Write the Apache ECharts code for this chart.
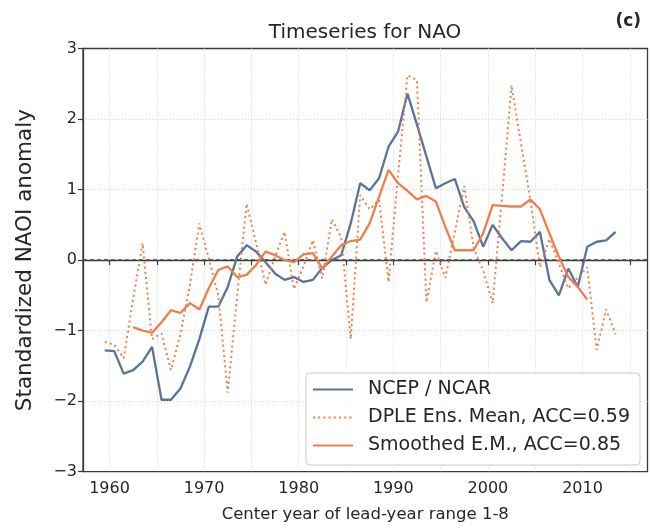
<!DOCTYPE html>
<html>
<head>
<meta charset="utf-8">
<script src="https://cdn.jsdelivr.net/npm/echarts@6/dist/echarts.min.js"></script>
<style>
  html, body { margin: 0; padding: 0; background: #ffffff; }
  #chart { width: 651px; height: 531px; }
</style>
</head>
<body>
<div id="chart"></div>
<script>
// Centre year of the lead-year 1-8 window for each start date
const years = [
  1959.5, 1960.5, 1961.5, 1962.5, 1963.5, 1964.5, 1965.5, 1966.5, 1967.5, 1968.5,
  1969.5, 1970.5, 1971.5, 1972.5, 1973.5, 1974.5, 1975.5, 1976.5, 1977.5, 1978.5,
  1979.5, 1980.5, 1981.5, 1982.5, 1983.5, 1984.5, 1985.5, 1986.5, 1987.5, 1988.5,
  1989.5, 1990.5, 1991.5, 1992.5, 1993.5, 1994.5, 1995.5, 1996.5, 1997.5, 1998.5,
  1999.5, 2000.5, 2001.5, 2002.5, 2003.5, 2004.5, 2005.5, 2006.5, 2007.5, 2008.5,
  2009.5, 2010.5, 2011.5, 2012.5, 2013.5
];

// Observed NAO index (NCEP / NCAR reanalysis), standardized
const ncep = [
  -1.28, -1.29, -1.61, -1.56, -1.44, -1.23, -1.98, -1.98, -1.82, -1.51,
  -1.12, -0.66, -0.66, -0.38, 0.05, 0.21, 0.12, -0.03, -0.19, -0.28,
  -0.24, -0.31, -0.28, -0.11, 0.00, 0.07, 0.52, 1.09, 0.99, 1.16,
  1.61, 1.82, 2.36, 1.92, 1.47, 1.02, 1.09, 1.15, 0.75, 0.55,
  0.19, 0.50, 0.31, 0.14, 0.27, 0.26, 0.40, -0.28, -0.50, -0.12,
  -0.38, 0.19, 0.26, 0.28, 0.40
];

// DPLE ensemble mean
const dple = [
  -1.16, -1.20, -1.39, -0.55, 0.24, -1.12, -1.04, -1.56, -1.05, -0.35,
  0.52, 0.02, -0.50, -1.88, -0.50, 0.80, 0.24, -0.35, 0.05, 0.40,
  -0.41, -0.09, 0.28, -0.26, 0.58, 0.32, -1.12, 0.92, 0.72, 0.85,
  -0.31, 1.20, 2.62, 2.55, -0.60, 0.13, -0.25, 0.40, 1.05, 0.17,
  -0.15, -0.61, 0.90, 2.48, 1.65, 0.85, -0.10, 0.30, -0.05, -0.40,
  -0.25, -0.10, -1.27, -0.70, -1.05
];

// Smoothed ensemble mean (shorter window)
const smoothYears = [
  1962.5, 1963.5, 1964.5, 1965.5, 1966.5, 1967.5, 1968.5, 1969.5, 1970.5, 1971.5,
  1972.5, 1973.5, 1974.5, 1975.5, 1976.5, 1977.5, 1978.5, 1979.5, 1980.5, 1981.5,
  1982.5, 1983.5, 1984.5, 1985.5, 1986.5, 1987.5, 1988.5, 1989.5, 1990.5, 1991.5,
  1992.5, 1993.5, 1994.5, 1995.5, 1996.5, 1997.5, 1998.5, 1999.5, 2000.5, 2001.5,
  2002.5, 2003.5, 2004.5, 2005.5, 2006.5, 2007.5, 2008.5, 2009.5, 2010.5
];
const smoothed = [
  -0.95, -1.00, -1.03, -0.88, -0.71, -0.75, -0.61, -0.70, -0.40, -0.14,
  -0.09, -0.24, -0.21, -0.07, 0.12, 0.07, 0.00, -0.03, 0.08, 0.10,
  -0.12, 0.05, 0.21, 0.27, 0.29, 0.52, 0.90, 1.28, 1.09, 0.98,
  0.86, 0.91, 0.83, 0.47, 0.14, 0.14, 0.14, 0.38, 0.78, 0.77,
  0.76, 0.76, 0.86, 0.72, 0.38, 0.05, -0.24, -0.38, -0.56
];

// Axis ticks
const xTicks = [1960, 1965, 1970, 1975, 1980, 1985, 1990, 1995, 2000, 2005, 2010, 2015];
const xTickLabels = [1960, 1970, 1980, 1990, 2000, 2010];

const seriesNames = ['NCEP / NCAR', 'DPLE Ens. Mean, ACC=0.59', 'Smoothed E.M., ACC=0.85'];

const BLUE = '#58749b';
const ORANGE = '#ef7f4a';
const INK = '#262626';
const FRAME = '#3a3a3a';
const GRID = '#d2d2d2';
const FONT = 'DejaVu Sans';

const pairs = (xs, ys) => xs.map((x, i) => [x, ys[i]]);
const withMinus = v => (v < 0 ? '\u2212' + Math.abs(v) : String(v));

const chart = echarts.init(document.getElementById('chart'), null, { renderer: 'canvas' });

const option = {
  animation: false,
  backgroundColor: '#ffffff',
  textStyle: { fontFamily: FONT, color: INK },
  grid: {
    left: 83, right: 3.5, top: 48.5, bottom: 59.3,
    show: true, borderColor: FRAME, borderWidth: 1.3, backgroundColor: 'transparent'
  },
  xAxis: {
    type: 'value',
    min: 1957.2,
    max: 2016.87,
    axisLine: { show: true, lineStyle: { color: FRAME, width: 1.3 } },
    axisTick: { show: true, customValues: xTicks, length: 5, lineStyle: { color: FRAME, width: 1.2 } },
    axisLabel: { customValues: xTickLabels, fontSize: 16, color: INK, margin: 9, fontFamily: FONT, formatter: v => String(v) },
    splitLine: { show: true, lineStyle: { color: GRID, width: 1, type: [1, 2] } },
    name: 'Center year of lead-year range 1-8',
    nameLocation: 'middle',
    nameGap: 35,
    nameTextStyle: { fontSize: 16.5, color: INK, fontFamily: FONT }
  },
  yAxis: {
    type: 'value',
    min: -3,
    max: 3,
    interval: 1,
    axisLine: { show: true, lineStyle: { color: FRAME, width: 1.3 } },
    axisTick: { show: true, length: 5, lineStyle: { color: FRAME, width: 1.2 } },
    axisLabel: { fontSize: 16, color: INK, margin: 6, formatter: withMinus, fontFamily: FONT },
    splitLine: { show: true, showMinLine: false, showMaxLine: false, lineStyle: { color: GRID, width: 1, type: [1, 2] } },
    name: 'Standardized NAOI anomaly',
    nameLocation: 'middle',
    nameGap: 47,
    nameRotate: 90,
    nameTextStyle: { fontSize: 21.5, color: INK, fontFamily: FONT }
  },
  legend: {
    orient: 'vertical',
    left: 306,
    top: 373,
    data: seriesNames,
    itemWidth: 40,
    itemHeight: 14,
    itemGap: 9,
    padding: [7, 10, 10, 6],
    backgroundColor: 'rgba(255,255,255,0.85)',
    borderColor: '#cccccc',
    borderWidth: 1,
    borderRadius: 4,
    itemStyle: { opacity: 0 },
    textStyle: { fontSize: 19, color: INK, fontFamily: FONT, lineHeight: 18, padding: [0, 0, 0, 10] }
  },
  graphic: [
    {
      type: 'text', x: 365, y: 33,
      style: { text: 'Timeseries for NAO', font: '20px "DejaVu Sans"', fill: INK, textAlign: 'center', textVerticalAlign: 'middle' }
    },
    {
      type: 'text', x: 641, y: 22,
      style: { text: '(c)', font: 'bold 17px "DejaVu Sans"', fill: INK, textAlign: 'right', textVerticalAlign: 'middle' }
    }
  ],
  series: [
    {
      name: seriesNames[0],
      type: 'line',
      data: pairs(years, ncep),
      symbol: 'none',
      lineStyle: { color: BLUE, width: 2.3 },
      itemStyle: { color: BLUE },
      z: 3,
      markLine: {
        silent: true,
        symbol: 'none',
        label: { show: false },
        lineStyle: { color: '#444444', width: 1.6, type: [4, 3] },
        data: [{ yAxis: 0 }]
      }
    },
    {
      name: seriesNames[1],
      type: 'line',
      data: pairs(years, dple),
      symbol: 'none',
      lineStyle: { color: ORANGE, width: 2, type: [2, 3.2] },
      itemStyle: { color: ORANGE },
      z: 4
    },
    {
      name: seriesNames[2],
      type: 'line',
      data: pairs(smoothYears, smoothed),
      symbol: 'none',
      lineStyle: { color: ORANGE, width: 2.3 },
      itemStyle: { color: ORANGE },
      z: 5
    }
  ]
};

chart.setOption(option);
</script>
</body>
</html>
